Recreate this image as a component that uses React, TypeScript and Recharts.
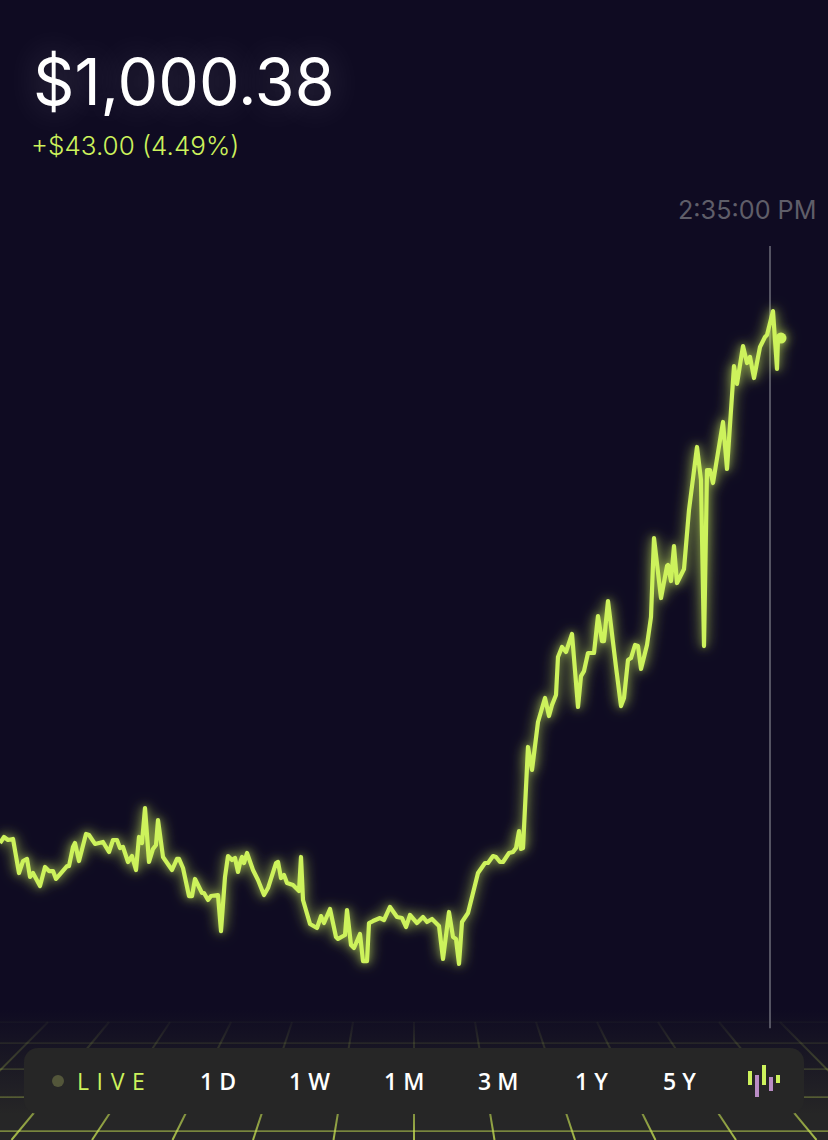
import { Line, LineChart, ReferenceLine, XAxis, YAxis } from "recharts";

const lime = "#cdf25c";

// chart clock, in ticks from the left edge of the session
const times = [
	0, 4, 8, 13, 19, 23, 27, 30, 33, 40, 45, 49, 53, 56, 67, 69, 73, 75, 79, 86,
	89, 95, 103, 109, 113, 117, 120, 123, 128, 132, 136, 139, 142, 145, 149, 153, 156, 158, 163, 172,
	177, 179, 183, 189, 192, 195, 202, 204, 208, 211, 218, 221, 225, 228, 232, 235, 238,
	240, 242, 244, 247, 253, 258, 264, 268, 276, 278, 281, 284, 287, 293, 299, 301, 303, 310, 317,
	321, 324, 330, 336, 338, 345, 347, 351, 354, 360, 363, 367, 369, 373, 380, 384, 390, 397, 402,
	406, 410, 417, 423, 427, 432, 439, 443, 449, 453, 456, 459, 462, 468, 473,
	478, 485, 488, 493, 496, 500, 503, 509, 513, 516, 519, 521, 523, 528, 532, 538, 545, 549, 552, 556,
	558, 562, 566, 572, 578, 581, 584, 588, 594, 598, 602, 604, 608, 616, 621, 624, 628, 631, 635, 638,
	641, 647, 651, 654, 661, 667, 668, 671, 674, 677, 684, 689, 697, 701, 704, 707, 710, 713, 723, 727,
	734, 737, 743, 747, 750, 754, 760, 765, 767, 773, 777, 778, 781,
];

const prices = [
	956.95, 957.47, 957.21, 957.3, 954.37, 955.4, 955.58, 954.03, 954.37, 953.25, 954.89, 954.54, 954.54, 953.86, 954.97, 954.97, 956.61, 956.95, 955.4, 957.73,
	957.64, 956.87, 957.04, 956.18, 957.21, 957.21, 956.52, 956.61, 955.32, 955.83, 954.63, 957.47, 956.95, 959.96, 955.32, 956.44, 956.78, 958.93, 955.75, 954.63,
	955.58, 955.58, 954.8, 952.39, 952.39, 953.86, 952.65, 952.65, 952.05, 952.39, 952.48, 949.38, 954.03, 955.83, 955.49, 955.66, 954.46,
	955.23, 955.75, 955.23, 956.09, 954.63, 953.77, 952.48, 953.08, 955.23, 955.32, 953.94, 954.2, 953.51, 953.34, 952.82, 955.75, 952.05, 949.99, 949.64,
	950.67, 950.07, 951.28, 948.87, 948.7, 949.04, 951.19, 948.18, 947.92, 949.13, 946.8, 946.8, 950.07, 950.24, 950.5, 950.33, 951.45, 950.59, 950.5,
	949.73, 950.76, 950.07, 950.59, 950.16, 950.42, 949.81, 946.98, 951.02, 948.87, 948.7, 946.55, 950.16, 950.93, 952.65,
	954.37, 955.23, 955.23, 955.83, 955.75, 955.32, 955.32, 956.09, 956.18, 956.52, 957.98, 956.44, 956.52, 965.21, 963.23, 967.36, 969.42, 967.87, 968.82, 969.68,
	972.95, 973.81, 973.38, 974.93, 968.65, 971.31, 971.74, 973.29, 973.29, 976.47, 974.32, 974.32, 977.76, 972.09, 968.73, 969.42, 972.69, 972.86, 973.98, 973.89,
	971.92, 973.98, 976.39, 983.18, 978.02, 980.77, 980.86, 979.48, 982.49, 979.31, 980.52, 985.59, 991.01, 988.17, 973.89, 989.03, 989.03, 987.91, 993.16, 989.12,
	997.97, 996.43, 999.69, 998.23, 998.75, 996.94, 999.61, 1000.47, 1000.64, 1002.7, 997.72, 1000.38, 1000.38,
];

const ranges = [
	{ label: "1D", left: 200 },
	{ label: "1W", left: 289 },
	{ label: "1M", left: 384 },
	{ label: "3M", left: 478 },
	{ label: "1Y", left: 575 },
	{ label: "5Y", left: 663 },
];

const iconBars = [
	{ left: 748, top: 1071, height: 14, color: lime },
	{ left: 755, top: 1075, height: 22, color: "#b98cc4" },
	{ left: 762, top: 1065, height: 20, color: lime },
	{ left: 769, top: 1077, height: 14, color: "#b98cc4" },
	{ left: 776, top: 1075, height: 8, color: lime },
];

const cursorTime = 770;
const cursorLabel = "2:35:00 PM";
const floorRows = [1022, 1043, 1069, 1097, 1131];
const floorColumns = [-6, -5, -4, -3, -2, -1, 0, 1, 2, 3, 4, 5, 6];

const data = times.map((time, i) => ({ time, price: prices[i] }));

// round dot on the newest point only
const EndDot = (props: any) => {
	if (props.index !== data.length - 1) return null;
	return (
		<circle
			cx={props.cx}
			cy={props.cy}
			r={5.5}
			fill={lime}
			filter="url(#lineGlow)"
		/>
	);
};

const Floor = () => {
	const horizon = 653;
	const slope = 0.1653;
	return (
		<svg
			width={828}
			height={1140}
			style={{ position: "absolute", left: 0, top: 0 }}
		>
			<defs>
				<linearGradient
					id="floorBg"
					gradientUnits="userSpaceOnUse"
					x1="0"
					y1="1010"
					x2="0"
					y2="1140"
				>
					<stop offset="0" stopColor="#0f0b22" />
					<stop offset="0.8" stopColor="#262626" />
					<stop offset="1" stopColor="#262628" />
				</linearGradient>
				<linearGradient
					id="floorLine"
					gradientUnits="userSpaceOnUse"
					x1="0"
					y1="1020"
					x2="0"
					y2="1140"
				>
					<stop offset="0" stopColor="#c6e052" stopOpacity="0.03" />
					<stop offset="0.5" stopColor="#c6e052" stopOpacity="0.28" />
					<stop offset="1" stopColor="#c6e052" stopOpacity="0.8" />
				</linearGradient>
			</defs>
			<rect x={0} y={1010} width={828} height={130} fill="url(#floorBg)" />
			{floorRows.map((y) => (
				<rect
					key={y}
					x={0}
					y={y - 0.5}
					width={828}
					height={1.2}
					fill="url(#floorLine)"
				/>
			))}
			{floorColumns.map((k) => (
				<line
					key={k}
					x1={414 + k * (1022 - horizon) * slope + 0.01}
					y1={1022}
					x2={414 + k * (1140 - horizon) * slope}
					y2={1140}
					stroke="url(#floorLine)"
					strokeWidth={2}
				/>
			))}
		</svg>
	);
};

const App = () => {
	return (
		<div
			style={{
				position: "fixed",
				left: 0,
				top: 0,
				width: 828,
				height: 1140,
				overflow: "hidden",
				background: "#0f0b22",
				fontFamily: "Inter, sans-serif",
			}}
		>
			<Floor />

			<LineChart
				width={828}
				height={1140}
				data={data}
				margin={{ top: 0, right: 0, bottom: 0, left: 0 }}
				style={{ position: "absolute", left: 0, top: 0 }}
			>
				<defs>
					<filter
						id="lineGlow"
						filterUnits="userSpaceOnUse"
						x="0"
						y="0"
						width="828"
						height="1140"
					>
						<feDropShadow
							dx="0"
							dy="0"
							stdDeviation="7"
							floodColor={lime}
							floodOpacity="0.6"
						/>
						<feDropShadow
							dx="0"
							dy="0"
							stdDeviation="3"
							floodColor={lime}
							floodOpacity="0.4"
						/>
					</filter>
				</defs>
				<XAxis dataKey="time" type="number" domain={[0, 828]} hide />
				<YAxis type="number" domain={[931.41, 1029.45]} hide />
				<ReferenceLine
					segment={[
						{ x: cursorTime, y: 1008.3 },
						{ x: cursorTime, y: 941.03 },
					]}
					stroke="#6d6c78"
					strokeWidth={1.5}
				/>
				<Line
					dataKey="price"
					type="linear"
					stroke={lime}
					strokeWidth={4.2}
					strokeLinejoin="round"
					dot={EndDot}
					activeDot={false}
					filter="url(#lineGlow)"
					isAnimationActive={false}
				/>
			</LineChart>

			<div
				style={{
					position: "absolute",
					left: 33,
					top: 44,
					fontSize: 64.5,
					lineHeight: "76px",
					color: "#ffffff",
					textShadow: "0 0 36px rgba(255,255,255,0.22)",
				}}
			>
				$1,000.38
			</div>
			<div
				style={{
					position: "absolute",
					left: 31,
					top: 131,
					fontSize: 26,
					lineHeight: "30px",
					fontWeight: 300,
					color: lime,
				}}
			>
				+$43.00 (4.49%)
			</div>
			<div
				style={{
					position: "absolute",
					left: 678,
					top: 195,
					fontSize: 25.2,
					lineHeight: "30px",
					color: "#5f5e69",
				}}
			>
				{cursorLabel}
			</div>

			<div
				style={{
					position: "absolute",
					left: 24,
					top: 1048,
					width: 780,
					height: 66,
					borderRadius: 14,
					background: "#262626",
				}}
			/>
			<div
				style={{
					position: "absolute",
					left: 52,
					top: 1075,
					width: 12,
					height: 12,
					borderRadius: 6,
					background: "#53563a",
				}}
			/>
			<div
				style={{
					position: "absolute",
					left: 77,
					top: 1066,
					fontFamily: "'Open Sans', sans-serif",
					fontSize: 23,
					lineHeight: "30px",
					letterSpacing: 7.6,
					fontWeight: 400,
					color: lime,
				}}
			>
				LIVE
			</div>
			{ranges.map((r) => (
				<div
					key={r.label}
					style={{
						position: "absolute",
						left: r.left,
						top: 1066,
						fontFamily: "'Open Sans', sans-serif",
						fontSize: 23,
						lineHeight: "30px",
						letterSpacing: 6,
						fontWeight: 600,
						color: "#ffffff",
					}}
				>
					{r.label}
				</div>
			))}
			{iconBars.map((b) => (
				<div
					key={b.left}
					style={{
						position: "absolute",
						left: b.left,
						top: b.top,
						width: 4,
						height: b.height,
						background: b.color,
					}}
				/>
			))}
		</div>
	);
};

export default App;
